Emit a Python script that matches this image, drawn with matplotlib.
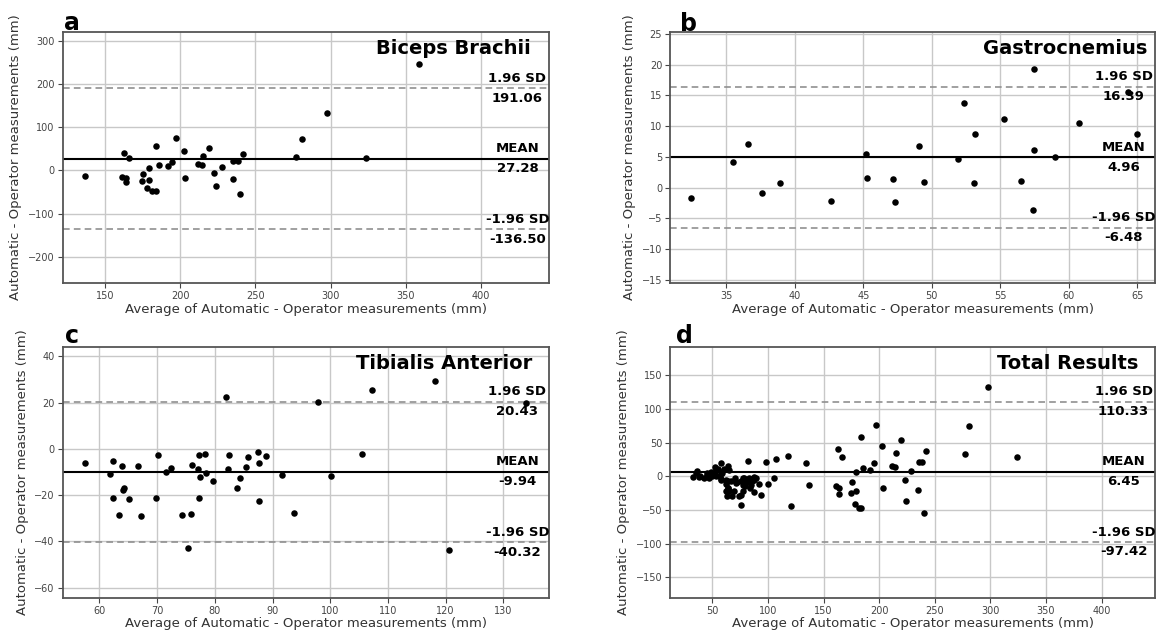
import matplotlib
matplotlib.use('Agg')
import matplotlib.pyplot as plt
import numpy as np

plt.rcParams['font.family'] = ['DejaVu Sans']

# ---------------- data ----------------
bb_x = [136.8, 161.3, 163.0, 164.0, 164.0, 166.2, 174.8, 175.7, 178.2, 179.2, 179.2,
        181.6, 184.0, 184.0, 185.8, 191.9, 194.9, 197.0, 202.5, 203.2, 211.8, 214.5,
        215.2, 219.4, 222.8, 223.8, 228.2, 235.0, 235.5, 238.7, 239.9, 241.9, 277.0,
        280.9, 297.8, 323.8, 358.6]
bb_y = [-12.3, -14.6, 40.0, -17.0, -27.0, 29.2, -25.4, -9.2, -41.5, -22.3, 6.2,
        -47.0, 57.7, -47.0, 11.5, 10.0, 19.2, 75.4, 45.4, -17.0, 15.4, 13.0,
        33.8, 53.0, -5.4, -37.0, 7.7, -20.0, 20.8, 21.5, -54.6, 37.0, 32.3,
        73.8, 133.0, 28.5, 247.7]

gc_x = [32.4, 35.5, 36.55, 37.58, 38.93, 42.68, 45.2, 45.25, 47.18, 47.34, 49.08,
        49.43, 51.92, 52.36, 53.06, 53.17, 55.26, 56.48, 57.43, 57.46, 57.4, 59.0,
        60.77, 64.94, 64.3]
gc_y = [-1.63, 4.24, 7.12, -0.82, 0.76, -2.17, 5.54, 1.63, 1.47, -2.39, 6.85,
        0.87, 4.62, 13.7, 0.76, 8.8, 11.2, 1.09, 19.35, 6.09, -3.59, 4.95,
        10.43, 8.8, 15.5]

ta_x = [57.5, 61.92, 62.43, 62.3, 63.39, 63.84, 64.03, 64.35, 65.05, 66.72, 67.29,
        69.85, 70.11, 71.52, 72.48, 74.27, 75.29, 75.8, 76.12, 77.15, 77.21, 77.34,
        77.47, 78.3, 78.43, 79.71, 81.88, 82.26, 82.52, 83.93, 84.31, 85.4, 85.78,
        87.45, 87.7, 87.7, 88.86, 91.67, 93.65, 97.88, 100.18, 105.49, 107.28,
        118.22, 120.52, 134.0]
ta_y = [-6.19, -11.08, -5.04, -21.15, -28.63, -7.48, -17.7, -16.83, -21.58, -7.48, -28.92,
        -21.15, -2.73, -10.22, -8.49, -28.63, -42.88, -28.2, -6.91, -8.78, -21.29, -2.73,
        -12.37, -2.01, -10.65, -14.1, 22.59, -8.78, -2.59, -16.83, -12.52, -7.77, -3.6,
        -1.44, -6.04, -22.73, -3.02, -11.37, -27.63, 20.43, -11.65, -2.3, 25.61,
        29.5, -43.74, 19.9]

# total = all muscles together
tot_x = bb_x + gc_x + ta_x
tot_y = bb_y + gc_y + ta_y

titles = ['Biceps Brachii', 'Gastrocnemius', 'Tibialis Anterior', 'Total Results']
letters = ['a', 'b', 'c', 'd']
means = [27.28, 4.96, -9.94, 6.45]
uppers = [191.06, 16.39, 20.43, 110.33]
lowers = [-136.50, -6.48, -40.32, -97.42]
xticks = [np.arange(150, 401, 50), np.arange(35, 66, 5), np.arange(60, 131, 10), np.arange(50, 401, 50)]
yticks = [np.arange(-200, 301, 100), np.arange(-15, 26, 5), np.arange(-60, 41, 20), np.arange(-150, 151, 50)]
xlims = [(122.3, 445.0), (30.93, 66.29), (53.7, 137.9), (12.3, 448.0)]
ylims = [(-261, 321), (-15.5, 25.3), (-64.4, 44.2), (-180, 192)]
datasets = [(bb_x, bb_y), (gc_x, gc_y), (ta_x, ta_y), (tot_x, tot_y)]

# ---------------- layout ----------------
W, H = 1158, 632
fig = plt.figure(figsize=(W / 100, H / 100), dpi=100)
boxes = [(63, 32, 549, 283), (670.5, 32, 1155, 283), (63, 346.7, 549, 597.7), (670.5, 346.7, 1155, 597.7)]
title_x = [0.962, 0.985, 0.965, 0.966]
letter_pos = [(64, 30), (680, 30.7), (65, 343.3), (676, 342.7)]

for i in range(4):
    l, t, r, b = boxes[i]
    ax = fig.add_axes([l / W, 1 - b / H, (r - l) / W, (b - t) / H])
    xs, ys = datasets[i]
    ax.set_xlim(*xlims[i])
    ax.set_ylim(*ylims[i])
    ax.set_xticks(xticks[i])
    ax.set_yticks(yticks[i])
    ax.grid(True, color='#c8c8c8', lw=1.0, zorder=0)
    ax.set_axisbelow(True)
    ax.scatter(xs, ys, s=22, color='black', zorder=3, linewidths=0)
    ax.axhline(means[i], color='black', lw=1.5, zorder=2)
    ax.axhline(uppers[i], color='#909090', lw=1.2, ls=(0, (4, 2.5)), zorder=2)
    ax.axhline(lowers[i], color='#909090', lw=1.2, ls=(0, (4, 2.5)), zorder=2)

    for sp in ax.spines.values():
        sp.set_color('#555555')
        sp.set_linewidth(1.3)
    ax.tick_params(axis='both', labelsize=7, colors='#444444', length=3.5, width=0.8, pad=2.5)

    ax.set_xlabel('Average of Automatic - Operator measurements (mm)', fontsize=9.5, color='#333333', labelpad=1)
    ax.set_ylabel('Automatic - Operator measurements (mm)', fontsize=9.5, color='#333333', labelpad=4)

    tx = 0.935
    off = 2.5
    for val, lab in [(uppers[i], '1.96 SD'), (means[i], 'MEAN'), (lowers[i], '-1.96 SD')]:
        ax.annotate(lab, xy=(tx, val), xycoords=('axes fraction', 'data'),
                    xytext=(0, off), textcoords='offset points',
                    ha='center', va='bottom', fontsize=9.5, fontweight='bold', zorder=4)
        ax.annotate('%.2f' % val, xy=(tx, val), xycoords=('axes fraction', 'data'),
                    xytext=(0, -off), textcoords='offset points',
                    ha='center', va='top', fontsize=9.5, fontweight='bold', zorder=4)

    ax.text(title_x[i], 0.912, titles[i], transform=ax.transAxes, ha='right', va='baseline',
            fontsize=14, fontweight='bold', zorder=4)
    lx, ly = letter_pos[i]
    fig.text(lx / W, 1 - ly / H, letters[i], ha='left', va='baseline', fontsize=17, fontweight='bold')

fig.savefig('out.png', dpi=100)
